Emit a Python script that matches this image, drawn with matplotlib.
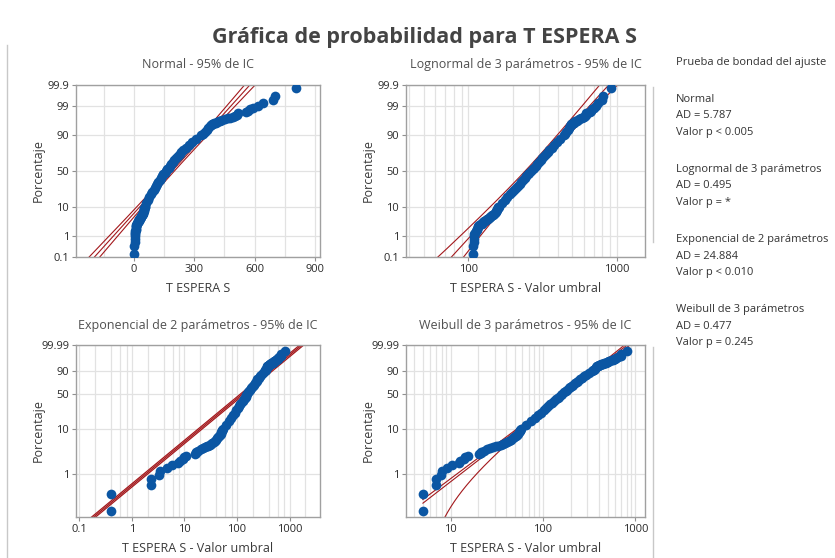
import numpy as np
import matplotlib
matplotlib.use("Agg")
import matplotlib.pyplot as plt
from matplotlib.lines import Line2D
from matplotlib.ticker import FixedLocator, LogLocator, MultipleLocator, NullFormatter
from statistics import NormalDist

plt.rcParams["font.family"] = ["Open Sans", "DejaVu Sans"]

# percentiles (median ranks, %) and T ESPERA S values
porcentaje = [0.14, 0.34, 0.54, 0.74, 0.94, 1.14, 1.34, 1.54, 1.74, 1.94,
              2.14, 2.34, 2.54, 2.74, 2.94, 3.14, 3.34, 3.54, 3.74, 3.94,
              4.14, 4.34, 4.54, 4.74, 4.94, 5.3, 5.6, 5.9, 6.3, 6.7,
              7.1, 7.5, 8.0, 8.5, 9.0, 9.5,
              10, 12.5, 15, 17.5, 20, 22.5, 25, 27.5, 30, 32.5, 35, 37.5,
              40, 42.5, 45, 47.5, 50, 52.5, 55, 57.5, 60, 62.5, 65, 67.5,
              70, 72.5, 75, 77.5, 80, 82.5, 85, 87.5, 90,
              90.87, 91.87, 92.87, 93.87, 94.87, 95.07, 95.27, 95.47, 95.67, 95.87,
              96.06, 96.26, 96.46, 96.66, 96.86, 97.06, 97.26, 97.46, 97.66, 97.86,
              98.06, 98.26, 98.46, 98.66, 98.86, 99.06, 99.26, 99.46, 99.66, 99.86]
t_espera = [1.0, 1.0, 2.9, 2.9, 3.9, 4.0, 5.2, 6.3, 8.2, 8.8,
            10.0, 10.4, 11.3, 16.5, 17.2, 17.5, 19.0, 21.0, 23.0, 25.0,
            27.0, 29.0, 31.0, 33.0, 34.5, 37, 39, 41, 43, 45,
            46.5, 48, 49.5, 51, 52, 53,
            54, 62, 70, 77, 84, 91, 98, 104, 110, 116, 122, 128,
            134, 140, 146, 152, 158, 165, 172, 179, 186, 193, 201, 209,
            218, 227, 236, 246, 258, 272, 289, 309, 335,
            343, 352, 361, 370, 380, 384, 388, 393, 399, 406,
            413, 421, 430, 440, 452, 466, 480, 492, 502, 511,
            519, 558, 566, 576, 592, 617, 642, 690, 700, 806]

# thresholds of the 3-parameter / 2-parameter fits
umbral_lognormal = -106.0
umbral_exponencial = 0.6
umbral_weibull = -4.0

# fitted parameters
n_muestra = 500
normal_mu, normal_sigma = 190.0, 125.0
logn_mu, logn_sigma = 2.416, 0.1715      # log10 scale
expo_theta = 186.0
weib_k, weib_lambda = 1.65, 212.0

titulos = ["Normal - 95% de IC", "Lognormal de 3 parámetros - 95% de IC",
           "Exponencial de 2 parámetros - 95% de IC", "Weibull de 3 parámetros - 95% de IC"]
etiquetas_x = ["T ESPERA S", "T ESPERA S - Valor umbral",
               "T ESPERA S - Valor umbral", "T ESPERA S - Valor umbral"]
bondad = [("Normal", "AD = 5.787", "Valor p < 0.005"),
          ("Lognormal de 3 parámetros", "AD = 0.495", "Valor p = *"),
          ("Exponencial de 2 parámetros", "AD = 24.884", "Valor p < 0.010"),
          ("Weibull de 3 parámetros", "AD = 0.477", "Valor p = 0.245")]

AZUL = "#0b56a3"
ROJO = "#a3181c"
GRIS = "#3a3a3a"

W, H = 835, 558
fig = plt.figure(figsize=(W / 100, H / 100), dpi=100)

_nd = NormalDist()
_ppf = np.vectorize(_nd.inv_cdf, otypes=[float])
_cdf = np.vectorize(_nd.cdf, otypes=[float])


def norm_fwd(p):
    p = np.clip(np.asarray(p, float), 1e-7, 100 - 1e-7)
    return _ppf(p / 100.0)


def norm_inv(z):
    return _cdf(np.asarray(z, float)) * 100.0


def wb_fwd(p):
    p = np.clip(np.asarray(p, float), 1e-9, 100 - 1e-9)
    return np.log(-np.log(1 - p / 100.0))


def wb_inv(y):
    return 100.0 * (1 - np.exp(-np.exp(np.clip(np.asarray(y, float), -30, 3.5))))


def axes_px(left, top, right, bottom):
    return fig.add_axes([left / W, (H - bottom) / H, (right - left) / W, (bottom - top) / H])


def estilo(ax):
    for s in ax.spines.values():
        s.set_color("#a0a0a0")
        s.set_linewidth(1.0)
    ax.tick_params(which="major", length=3, width=0.8, color="#909090",
                   labelsize=8, labelcolor="#2a2a2a", pad=2)
    ax.tick_params(which="minor", length=0)
    ax.grid(True, which="both", color="#e2e2e2", linewidth=0.9)
    ax.set_axisbelow(True)


def eje_y(ax, tipo):
    if tipo == "normal":
        ax.set_yscale("function", functions=(norm_fwd, norm_inv))
        ax.set_ylim(0.1, 99.9)
        ticks = [0.1, 1, 10, 50, 90, 99, 99.9]
        labels = ["0.1", "1", "10", "50", "90", "99", "99.9"]
    else:
        ax.set_yscale("function", functions=(wb_fwd, wb_inv))
        ax.set_ylim(0.1, 99.99)
        ticks = [1, 10, 50, 90, 99.99]
        labels = ["1", "10", "50", "90", "99.99"]
    ax.yaxis.set_major_locator(FixedLocator(ticks))
    ax.set_yticklabels(labels)
    ax.yaxis.set_minor_locator(FixedLocator([]))


def eje_log(ax, lim, ticks, subs):
    ax.set_xscale("log")
    ax.set_xlim(*lim)
    ax.xaxis.set_major_locator(FixedLocator(ticks))
    ax.set_xticklabels([("%g" % t) for t in ticks])
    ax.xaxis.set_minor_locator(LogLocator(base=10, subs=subs))
    ax.xaxis.set_minor_formatter(NullFormatter())


t = np.array(t_espera)
pct = np.array(porcentaje)
z = np.linspace(-3.3, 3.3, 300)
p_z = norm_inv(z)
yw = np.linspace(-7.2, 2.4, 300)
p_w = wb_inv(yw)
MS = 7.0

# --- Normal
ax1 = axes_px(76, 85, 320, 257)
estilo(ax1)
eje_y(ax1, "normal")
ax1.set_xlim(-288, 925)
ax1.xaxis.set_major_locator(FixedLocator([0, 300, 600, 900]))
ax1.xaxis.set_minor_locator(MultipleLocator(150))
xf = normal_mu + z * normal_sigma
hw = 1.96 * normal_sigma * np.sqrt((1 + z ** 2 / 2) / n_muestra)
for xx in (xf - hw, xf, xf + hw):
    ax1.plot(xx, p_z, color=ROJO, lw=0.8, zorder=2)
ax1.plot(t, pct, "o", ms=MS, color=AZUL, mec="none", zorder=3)

# --- Lognormal 3 parametros
ax2 = axes_px(406, 85, 645, 257)
estilo(ax2)
eje_y(ax2, "normal")
eje_log(ax2, (38, 1552), [100, 1000], np.arange(2, 10))
c = logn_mu + z * logn_sigma
h = 0.024 * np.sqrt(1 + z ** 2 / 2)
for xx in (10 ** (c - h) - 5, 10 ** c, 10 ** (c + h) + 5):
    ax2.plot(xx, p_z, color=ROJO, lw=0.8, zorder=2)
ax2.plot(t - umbral_lognormal, pct, "o", ms=MS, color=AZUL, mec="none", zorder=3)

# --- Exponencial 2 parametros
ax3 = axes_px(76, 345, 320, 517)
estilo(ax3)
eje_y(ax3, "weibull")
eje_log(ax3, (0.0858, 3810), [0.1, 1, 10, 100, 1000], [2, 4, 6, 8])
vf = expo_theta * np.exp(yw)
for xx in (vf * np.exp(-1.96 / np.sqrt(n_muestra)), vf, vf * np.exp(1.96 / np.sqrt(n_muestra))):
    ax3.plot(xx, p_w, color=ROJO, lw=0.9, zorder=2)
ax3.plot(t - umbral_exponencial, pct, "o", ms=MS, color=AZUL, mec="none", zorder=3)

# --- Weibull 3 parametros
ax4 = axes_px(406, 345, 645, 517)
estilo(ax4)
eje_y(ax4, "weibull")
eje_log(ax4, (3.3, 1268), [10, 100, 1000], np.arange(2, 10))
vw = weib_lambda * np.exp(yw / weib_k)
hwb = 0.03 * np.sqrt(1 + (yw + 0.5) ** 2 / 2)
vmin = t.min() - umbral_weibull
for xx in (vw * np.exp(-hwb), vw, vw * np.exp(hwb) + 5):
    m = xx >= vmin
    ax4.plot(xx[m], p_w[m], color=ROJO, lw=0.8, zorder=2)
ax4.plot(t - umbral_weibull, pct, "o", ms=MS, color=AZUL, mec="none", zorder=3)

for ax, titulo, etq in zip([ax1, ax2, ax3, ax4], titulos, etiquetas_x):
    bb = ax.get_position()
    y_t = bb.y1 + 20 / H
    fig.text((bb.x0 + bb.x1) / 2, y_t, titulo, ha="center", va="center",
             fontsize=9, color="#505050")
    ax.set_xlabel(etq, fontsize=9, color=GRIS)
    ax.xaxis.set_label_coords(0.5, -31 / 172)
    ax.xaxis.label.set_va("center")
    ax.set_ylabel("Porcentaje", fontsize=9, color=GRIS)
    ax.yaxis.set_label_coords(-38 / (bb.width * W), 0.5)
    ax.yaxis.label.set_va("center")

fig.text(425 / W, 1 - 38 / H, "Gráfica de probabilidad para T ESPERA S",
         ha="center", va="center", fontsize=15.5, fontweight="bold", color="#444444")

fig.text(676 / W, 1 - 63 / H, "Prueba de bondad del ajuste", ha="left", va="center",
         fontsize=8, color="#333333")
for g, lineas in enumerate(bondad):
    for k, txt in enumerate(lineas):
        y = 99 + 70.3 * g + 16.5 * k
        fig.text(676 / W, 1 - y / H, txt, ha="left", va="center", fontsize=8, color="#333333")

# window borders seen in the screenshot
for x0, y0, y1 in [(7, 45, 558), (653, 87, 242), (653, 347, 558)]:
    fig.add_artist(Line2D([x0 / W, x0 / W], [1 - y0 / H, 1 - y1 / H],
                          color="#c8c8c8", lw=1.0, transform=fig.transFigure))

fig.savefig("out.png", dpi=100)
